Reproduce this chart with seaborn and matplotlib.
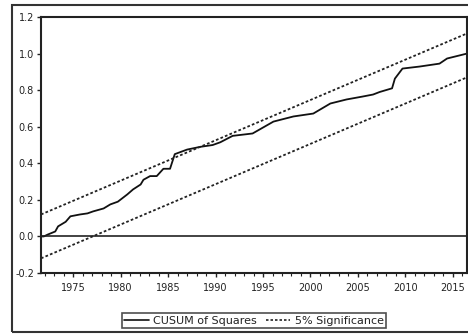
import seaborn as sns
import matplotlib.pyplot as plt
from matplotlib.patches import Rectangle
from matplotlib.lines import Line2D
import pandas as pd

# CUSUM of squares readings (year, value)
years = [1971.6, 1971.9, 1972.3, 1973.1, 1973.4, 1974.2, 1974.7, 1975.7, 1976.5,
         1977.1, 1978.2, 1978.9, 1979.7, 1980.7, 1981.3, 1982.1, 1982.4, 1983.1,
         1983.8, 1984.5, 1985.2, 1985.7, 1987.0, 1988.4, 1989.7, 1990.5, 1991.8,
         1993.9, 1996.1, 1998.2, 2000.3, 2002.1, 2003.8, 2005.5, 2006.6, 2007.3,
         2008.6, 2008.9, 2009.7, 2011.5, 2013.6, 2014.4, 2016.5]
cusum = [0.0, 0.0, 0.01, 0.027, 0.055, 0.08, 0.11, 0.12, 0.126,
         0.137, 0.153, 0.175, 0.19, 0.23, 0.257, 0.284, 0.31, 0.33,
         0.33, 0.37, 0.37, 0.45, 0.475, 0.49, 0.50, 0.515, 0.55,
         0.563, 0.628, 0.656, 0.672, 0.727, 0.749, 0.765, 0.776, 0.79,
         0.81, 0.863, 0.918, 0.929, 0.945, 0.973, 1.0]

# 5% significance bounds (straight lines, start/end)
bound_years = [1971.6, 2016.5]
upper = [0.12, 1.11]
lower = [-0.12, 0.87]

yticks = [-0.2, 0.0, 0.2, 0.4, 0.6, 0.8, 1.0, 1.2]
xticks = [1975, 1980, 1985, 1990, 1995, 2000, 2005, 2010, 2015]

sns.set_style("ticks")
plt.rcParams['font.family'] = ['DejaVu Sans']

fig = plt.figure(figsize=(4.68, 3.35), dpi=100)
ax = fig.add_axes([41 / 468, 1 - 273 / 335, 426 / 468, 256 / 335])

df = pd.DataFrame({'year': years, 'value': cusum})
bd = pd.DataFrame({'year': bound_years, 'upper': upper, 'lower': lower})

dots = (0, (1.5, 1.2))
sns.lineplot(data=df, x='year', y='value', ax=ax, color='#111111', linewidth=1.3)
sns.lineplot(data=bd, x='year', y='upper', ax=ax, color='#222222', linewidth=1.3,
             linestyle=dots)
sns.lineplot(data=bd, x='year', y='lower', ax=ax, color='#222222', linewidth=1.3,
             linestyle=dots)
ax.axhline(0, color='#222222', linewidth=1.2)

ax.set_xlim(1971.6, 2016.5)
ax.set_ylim(-0.2, 1.2)
ax.set_yticks(yticks)
ax.set_yticklabels([f'{t:.1f}' for t in yticks])
ax.set_xticks(xticks)
ax.set_xticks(range(1972, 2017), minor=True)
ax.set_xlabel('')
ax.set_ylabel('')
ax.tick_params(axis='both', which='major', direction='out', length=3, width=1,
               labelsize=7, color='#222222', labelcolor='#222222', pad=2)
ax.tick_params(axis='x', which='major', pad=4)
ax.tick_params(axis='x', which='minor', direction='out', length=2, width=0.8,
               color='#222222')
for s in ax.spines.values():
    s.set_visible(True)
    s.set_linewidth(1.5)
    s.set_color('#222222')

handles = [Line2D([], [], color='#111111', linewidth=1.2),
           Line2D([], [], color='#222222', linewidth=1.2, linestyle=dots)]
leg = fig.legend(handles, ['CUSUM of Squares', '5% Significance'], loc='center',
                 bbox_to_anchor=(254 / 468, 1 - 320.5 / 335), ncol=2, fontsize=8,
                 frameon=True, fancybox=False, edgecolor='#222222',
                 handlelength=2.2, columnspacing=0.8, handletextpad=0.4,
                 borderpad=0.2, borderaxespad=0)
leg.get_frame().set_linewidth(1.2)
for t in leg.get_texts():
    t.set_color('#222222')

fig.patches.append(Rectangle((12 / 468, 3 / 335), 1.0, 1 - 8 / 335,
                             transform=fig.transFigure, fill=False,
                             edgecolor='#333333', linewidth=1.5))

fig.savefig('out.png', dpi=100)
